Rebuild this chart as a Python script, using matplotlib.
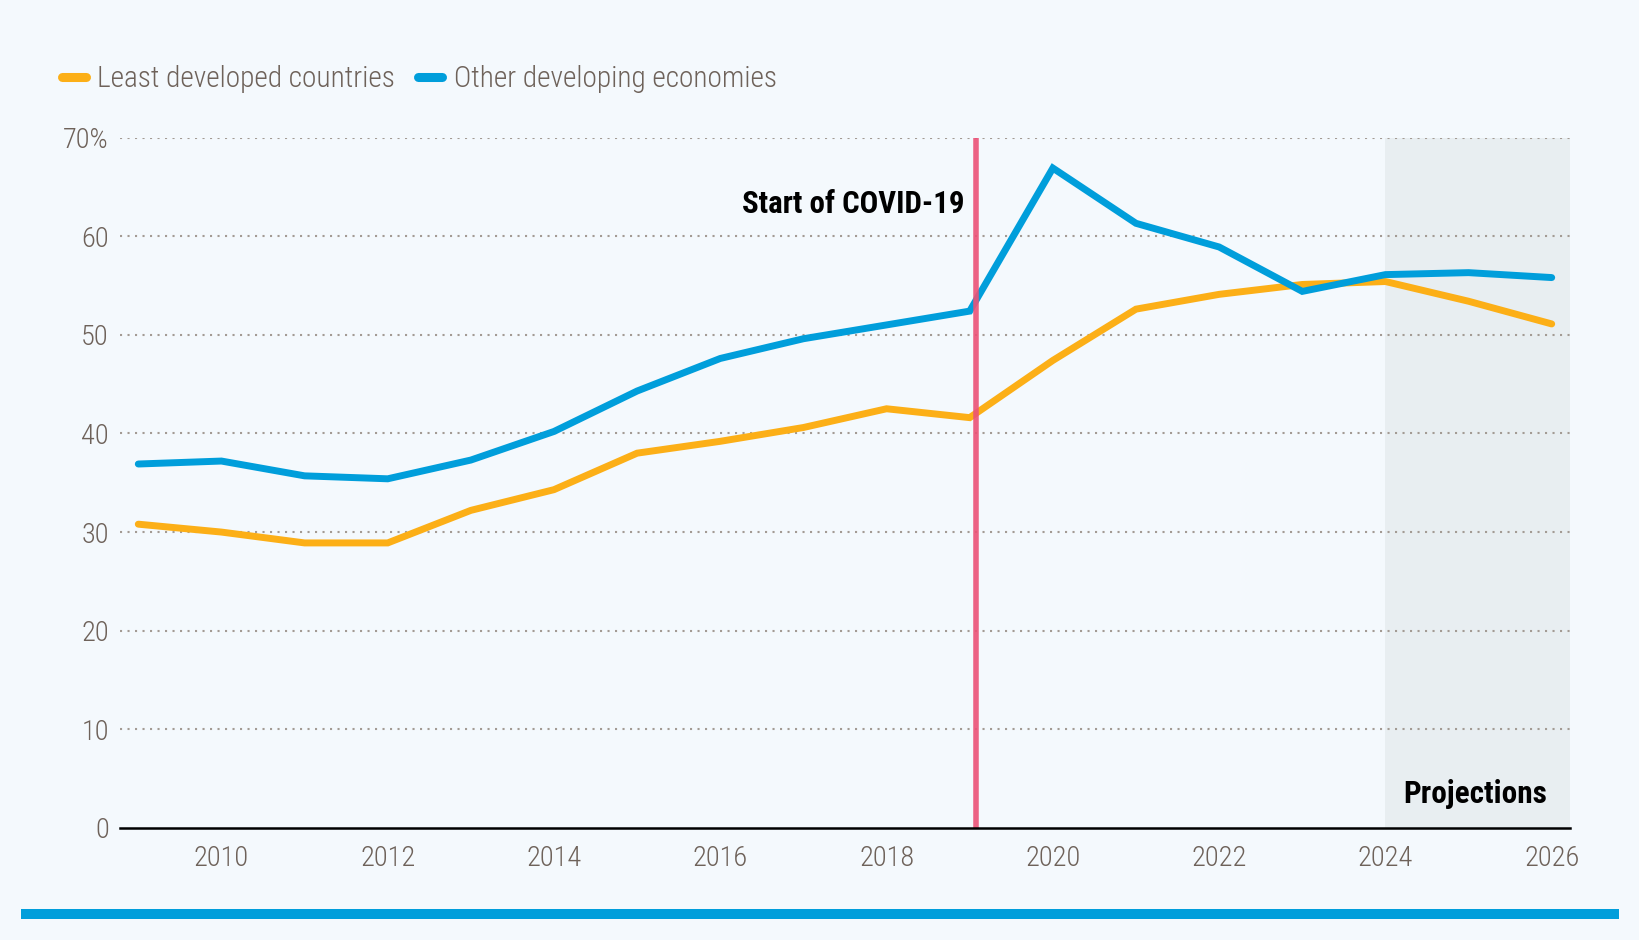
import matplotlib.pyplot as plt
from matplotlib import font_manager
from matplotlib.patches import Rectangle

# datos
years = list(range(2009, 2027))
ldc = [30.8, 30.0, 28.9, 28.9, 32.2, 34.3, 38.0, 39.2, 40.6, 42.5, 41.6,
       47.4, 52.6, 54.1, 55.1, 55.4, 53.4, 51.1]
other = [36.9, 37.2, 35.7, 35.4, 37.3, 40.2, 44.3, 47.6, 49.6, 51.0, 52.4,
         66.9, 61.3, 58.9, 54.4, 56.1, 56.3, 55.8]
series_names = ['Least developed countries', 'Other developing economies']
x_ticks = [2010, 2012, 2014, 2016, 2018, 2020, 2022, 2024, 2026]
y_ticks = [0, 10, 20, 30, 40, 50, 60, 70]
y_labels = ['0', '10', '20', '30', '40', '50', '60', '70%']
covid_year = 2019.08
proj_start = 2024

# fuente condensada si existe
names = {f.name for f in font_manager.fontManager.ttflist}
font = 'DejaVu Sans'
for cand in ['Roboto Condensed', 'Liberation Sans Narrow', 'DejaVu Sans Condensed']:
    if cand in names:
        font = cand
        break
plt.rcParams['font.family'] = [font, 'DejaVu Sans']

bg = '#f4f9fd'
txt = '#6e625a'
orange = '#fcaf17'
blue = '#009edb'
light = 'light'

fig = plt.figure(figsize=(16.4, 9.4), dpi=100, facecolor=bg)
ax = fig.add_axes([120 / 1640, 1 - 828 / 940, 1450 / 1640, 690.5 / 940])
ax.set_facecolor(bg)

ax.set_xlim(2008.78, 2026.22)
ax.set_ylim(0, 70)

# zona de proyecciones
ax.axvspan(proj_start, ax.get_xlim()[1], color='#e8eef1', zorder=0, lw=0)

for v in y_ticks[1:]:
    ax.axhline(v, color='#a39b94', lw=1.5, ls=(0, (1, 2.6)), zorder=1)

l1, = ax.plot(years, ldc, color=orange, lw=5, solid_capstyle='round',
              solid_joinstyle='miter', zorder=3, label=series_names[0])
l2, = ax.plot(years, other, color=blue, lw=5, solid_capstyle='round',
              solid_joinstyle='miter', zorder=3, label=series_names[1])

ax.axvline(covid_year, color='#ec5277', lw=4, alpha=0.9, zorder=4)
ax.text(covid_year - 0.14, 63.3, 'Start of COVID-19', ha='right', va='center',
        fontsize=22.2, fontweight='bold', color='black')
ax.text(2025.94, 2.5, 'Projections', ha='right', va='baseline',
        fontsize=22.5, fontweight='bold', color='black')

for s in ['top', 'right', 'left']:
    ax.spines[s].set_visible(False)
ax.spines['bottom'].set_color('black')
ax.spines['bottom'].set_linewidth(1.8)
ax.spines['bottom'].set_zorder(5)

ax.set_xticks(x_ticks)
ax.set_yticks(y_ticks)
ax.set_yticklabels(y_labels)
ax.tick_params(axis='both', length=0, labelsize=20.5, labelcolor=txt)
ax.tick_params(axis='x', pad=12.5)
ax.tick_params(axis='y', pad=8)
for t in ax.get_xticklabels() + ax.get_yticklabels():
    t.set_fontweight(light)

leg = ax.legend(handles=[l1, l2], loc='center left', ncol=2, frameon=False,
                bbox_to_anchor=(62 / 1640, 1 - 79 / 940), bbox_transform=fig.transFigure,
                prop={'size': 21.2, 'weight': light},
                handlelength=0.8, handletextpad=0.4, columnspacing=0.78,
                borderpad=0, borderaxespad=0)
for t in leg.get_texts():
    t.set_color(txt)
for h in leg.legend_handles:
    h.set_linewidth(6.5)
    h.set_solid_capstyle('round')

fig.add_artist(Rectangle((21 / 1640, 1 - 919 / 940), 1598 / 1640, 10 / 940,
                         transform=fig.transFigure, color=blue, lw=0))

fig.savefig('out.png', dpi=100, facecolor=bg)
